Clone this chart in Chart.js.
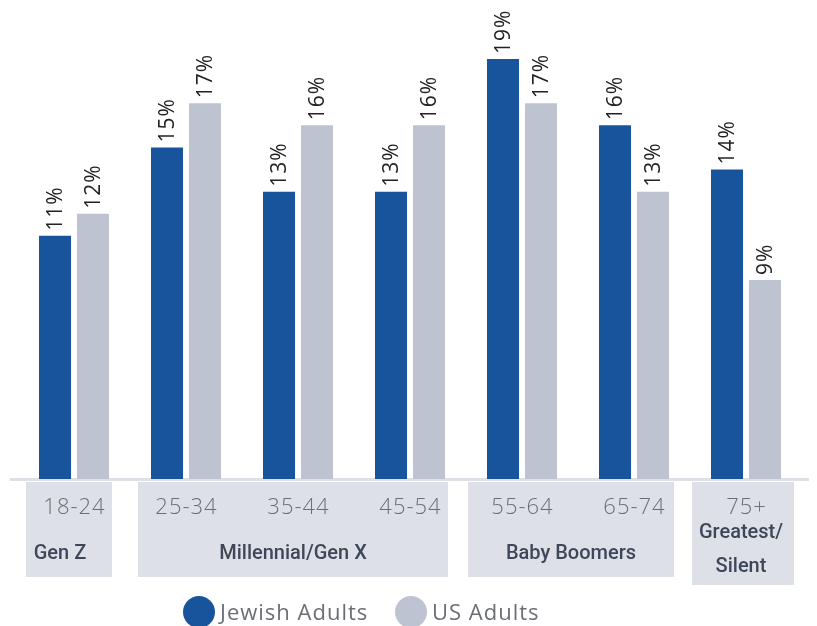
<!DOCTYPE html>
<html>
<head>
<meta charset="utf-8">
<script src="https://cdn.jsdelivr.net/npm/chart.js@4"></script>
<style>
  html, body { margin: 0; padding: 0; background: #fff; }
  #wrap { width: 817px; height: 626px; }
</style>
</head>
<body>
<div id="wrap"><canvas id="c" width="817" height="626"></canvas></div>
<script>
let ages = [`18-24`, `25-34`, `35-44`, `45-54`, `55-64`, `65-74`, `75+`];
let jewish = [11, 15, 13, 13, 19, 16, 14];
let usAdults = [12, 17, 16, 16, 17, 13, 9];
let generations = [`Gen Z`, `Millennial/Gen X`, `Baby Boomers`, `Greatest/\nSilent`];
let genFrom = [0, 1, 4, 6];
let genTo = [0, 3, 5, 6];

// box spans around the category centres (px)
let boxPadL = [48, 48, 54, 54];
let boxPadR = [38, 38, 40, 48];
let boxBottom = [577, 577, 577, 585];
let genDx = [-9, 0, 0, -2];

let blue = `#17549b`;
let grey = `#bdc3d0`;
let boxGrey = `#dde0e7`;

let decor = {
    id: `decor`,
    beforeDatasetsDraw(chart) {
        let ctx = chart.ctx;
        let x = chart.scales.x;
        let base = chart.scales.y.getPixelForValue(0);
        ctx.save();
        // axis line
        ctx.fillStyle = boxGrey;
        ctx.fillRect(10, base - 1, 799, 3);
        // group boxes
        for (let g = 0; g < generations.length; g++) {
            let l = x.getPixelForValue(genFrom[g]) - boxPadL[g];
            let r = x.getPixelForValue(genTo[g]) + boxPadR[g];
            ctx.fillStyle = boxGrey;
            ctx.fillRect(l, base + 3, r - l, boxBottom[g] - base - 3);
            ctx.fillStyle = `#3d4759`;
            ctx.font = `500 20px Roboto`;
            ctx.letterSpacing = `0px`;
            ctx.textAlign = `center`;
            ctx.textBaseline = `middle`;
            let lines = generations[g].split(`\n`);
            let cx = (l + r) / 2 + genDx[g];
            if (lines.length == 1) {
                ctx.fillText(lines[0], cx, 554);
            } else {
                ctx.fillText(lines[0], cx, 533);
                ctx.fillText(lines[1], cx, 567);
            }
        }
        // age labels
        ctx.fillStyle = `#6b6e74`;
        ctx.font = `300 22px "Open Sans"`;
        ctx.letterSpacing = `1px`;
        ctx.textAlign = `center`;
        ctx.textBaseline = `middle`;
        ages.forEach((a, i) => ctx.fillText(a, x.getPixelForValue(i) + 0.5, 508));
        // legend
        let legendX = [199, 411];
        chart.data.datasets.forEach((ds, i) => {
            ctx.fillStyle = ds.backgroundColor;
            ctx.beginPath();
            ctx.arc(legendX[i], 612, 16, 0, Math.PI * 2);
            ctx.fill();
            ctx.fillStyle = `#6b6e74`;
            ctx.font = `22px "Open Sans"`;
            ctx.letterSpacing = `1px`;
            ctx.textAlign = `left`;
            ctx.fillText(ds.label, legendX[i] + 21, 614);
        });
        ctx.restore();
    },
    afterDatasetsDraw(chart) {
        let ctx = chart.ctx;
        ctx.save();
        ctx.fillStyle = `#222`;
        ctx.font = `21px "Open Sans"`;
        ctx.letterSpacing = `1px`;
        ctx.textAlign = `left`;
        ctx.textBaseline = `middle`;
        chart.data.datasets.forEach((ds, i) => {
            chart.getDatasetMeta(i).data.forEach((bar, j) => {
                ctx.save();
                ctx.translate(bar.x, bar.y - 5);
                ctx.rotate(-Math.PI / 2);
                ctx.fillText(ds.data[j] + `%`, 0, 1);
                ctx.restore();
            });
        });
        ctx.restore();
    }
};

new Chart(document.getElementById(`c`), {
    type: `bar`,
    data: {
        labels: ages,
        datasets: [
            { label: `Jewish Adults`, data: jewish, backgroundColor: blue },
            { label: `US Adults`, data: usAdults, backgroundColor: grey }
        ]
    },
    options: {
        responsive: false,
        animation: false,
        layout: { padding: { left: 18, right: 15, top: 0, bottom: 147 } },
        datasets: { bar: { categoryPercentage: 0.6786, barPercentage: 0.842 } },
        scales: {
            x: { display: false },
            y: { display: false, min: 0, max: 21.67 }
        },
        plugins: {
            legend: { display: false },
            tooltip: { enabled: false }
        }
    },
    plugins: [decor]
});
</script>
</body>
</html>
